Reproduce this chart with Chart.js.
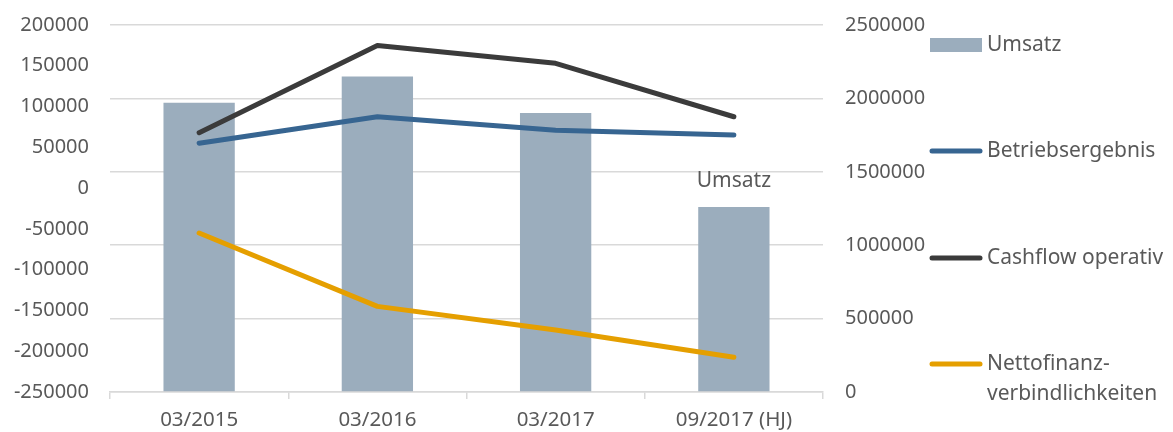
<!DOCTYPE html>
<html>
<head>
<meta charset="utf-8">
<script src="https://cdn.jsdelivr.net/npm/chart.js@4"></script>
<style>
  html, body { margin: 0; padding: 0; background: #fff; }
  #wrap { width: 1173px; height: 432px; }
</style>
</head>
<body>
<div id="wrap"><canvas id="chart" width="1173" height="432"></canvas></div>
<script>
// Daten
const categories = ['03/2015', '03/2016', '03/2017', '09/2017 (HJ)'];
const umsatz = [1970000, 2150000, 1900000, 1260000];
const betriebsergebnis = [55000, 87500, 71000, 65000];
const cashflowOperativ = [68000, 175000, 153000, 87500];
const nettofinanz = [-55000, -145000, -174000, -207500];

const leftTicks = [200000, 150000, 100000, 50000, 0, -50000, -100000, -150000, -200000, -250000];
const rightTicks = [2500000, 2000000, 1500000, 1000000, 500000, 0];

const FONT = '"Noto Sans", sans-serif';
const TEXT = '#595959';
const GRID = '#d9d9d9';
const TICK_SIZE = 20;
const LABEL_SIZE = 21;

// Legende rechts selbst zeichnen (Abstände wie im Original)
const sideLegend = {
  id: 'sideLegend',
  afterDraw(chart) {
    const { ctx } = chart;
    const x0 = 930, x1 = 982, tx = 987;
    const rows = [45, 151, 258, 364];
    ctx.save();
    ctx.font = LABEL_SIZE + 'px ' + FONT;
    ctx.textBaseline = 'middle';
    chart.data.datasets.forEach((ds, i) => {
      const y = rows[i];
      if (ds.type === 'bar') {
        ctx.fillStyle = ds.backgroundColor;
        ctx.fillRect(x0, y - 7, x1 - x0, 14);
      } else {
        ctx.strokeStyle = ds.borderColor;
        ctx.lineWidth = 5;
        ctx.lineCap = 'round';
        ctx.beginPath();
        ctx.moveTo(x0 + 2, y);
        ctx.lineTo(x1 - 2, y);
        ctx.stroke();
      }
      ctx.fillStyle = TEXT;
      const lines = Array.isArray(ds.label) ? ds.label : [ds.label];
      lines.forEach((t, k) => ctx.fillText(t, tx, y + k * 30));
    });
    ctx.restore();
  }
};

// Beschriftung "Umsatz" über dem letzten Balken
const lastBarLabel = {
  id: 'lastBarLabel',
  afterDatasetsDraw(chart) {
    const meta = chart.getDatasetMeta(0);
    const bar = meta.data[meta.data.length - 1];
    if (!bar) return;
    const { ctx } = chart;
    ctx.save();
    ctx.font = LABEL_SIZE + 'px ' + FONT;
    ctx.fillStyle = TEXT;
    ctx.textAlign = 'center';
    ctx.textBaseline = 'middle';
    ctx.fillText('Umsatz', bar.x, bar.y - 26);
    ctx.restore();
  }
};

const lineStyle = (color) => ({
  type: 'line',
  yAxisID: 'y',
  borderColor: color,
  backgroundColor: color,
  borderWidth: 5,
  borderCapStyle: 'round',
  borderJoinStyle: 'round',
  pointRadius: 0,
  tension: 0,
  fill: false
});

const plain = (v) => String(v);

// y-Achsen: keine zusätzliche Polsterung oben/unten, damit die Plotfläche bei y=25 beginnt
const fitY = (w) => (s) => {
  s.width = w;
  s.paddingTop = 0;
  s.paddingBottom = 0;
};

new Chart(document.getElementById('chart'), {
  type: 'bar',
  data: {
    labels: categories,
    datasets: [
      {
        type: 'bar',
        label: 'Umsatz',
        data: umsatz,
        yAxisID: 'y1',
        backgroundColor: '#9badbd',
        barPercentage: 0.4,
        categoryPercentage: 1,
        order: 5
      },
      { ...lineStyle('#376591'), label: 'Betriebsergebnis', data: betriebsergebnis, order: 3 },
      { ...lineStyle('#3b3b3b'), label: 'Cashflow operativ', data: cashflowOperativ, order: 2 },
      { ...lineStyle('#e59f00'), label: ['Nettofinanz-', 'verbindlichkeiten'], data: nettofinanz, order: 1 }
    ]
  },
  options: {
    responsive: false,
    animation: false,
    layout: { padding: { top: 25, bottom: 0, left: 0, right: 0 } },
    plugins: {
      legend: { display: false },
      tooltip: { enabled: false }
    },
    scales: {
      x: {
        offset: true,
        afterFit: (s) => { s.height = 40; s.paddingLeft = 0; s.paddingRight = 0; },
        grid: {
          offset: true,
          drawOnChartArea: false,
          drawTicks: true,
          tickLength: 7,
          color: GRID,
          lineWidth: 1.5
        },
        border: { color: GRID, width: 1.5 },
        ticks: { color: TEXT, font: { family: FONT, size: 20.5 }, padding: 9, maxRotation: 0 }
      },
      y: {
        position: 'left',
        min: -250000,
        max: 200000,
        afterBuildTicks: (s) => { s.ticks = leftTicks.map(v => ({ value: v })); },
        afterFit: fitY(110),
        grid: { display: false, drawTicks: false },
        border: { display: false },
        ticks: { color: TEXT, font: { family: FONT, size: TICK_SIZE }, padding: 21, callback: plain }
      },
      y1: {
        position: 'right',
        min: 0,
        max: 2500000,
        afterBuildTicks: (s) => { s.ticks = rightTicks.map(v => ({ value: v })); },
        afterFit: fitY(1173 - 823),
        grid: { color: GRID, lineWidth: 1.5, drawTicks: false },
        border: { display: false },
        ticks: { color: TEXT, font: { family: FONT, size: TICK_SIZE }, padding: 22, callback: plain }
      }
    }
  },
  plugins: [lastBarLabel, sideLegend]
});
</script>
</body>
</html>
